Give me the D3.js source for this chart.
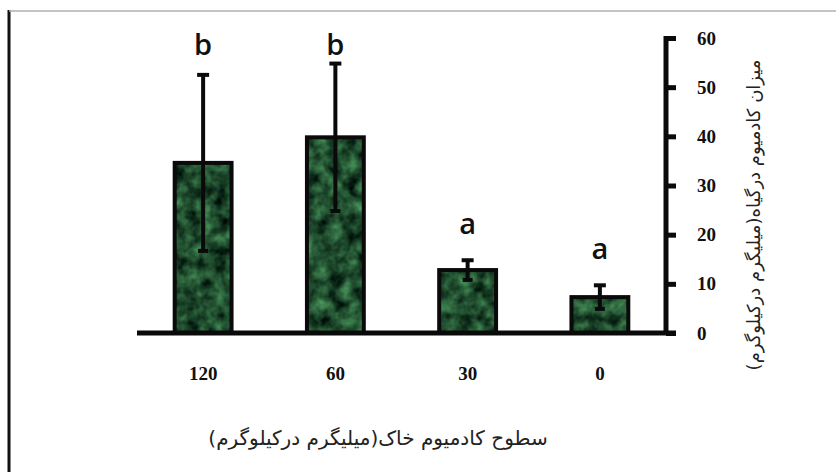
<!DOCTYPE html>
<html>
<head>
<meta charset="utf-8">
<script src="https://cdn.jsdelivr.net/npm/d3@7"></script>
<style>
  body { margin: 0; background: #fff; }
  svg { display: block; }
</style>
</head>
<body>
<script>
// data
const categories = ["120", "60", "30", "0"];
const means = [34.6, 39.8, 12.8, 7.3];
const errors = [17.9, 15.0, 2.0, 2.4];
const letters = ["b", "b", "a", "a"];
const yTicks = [0, 10, 20, 30, 40, 50, 60];
const xTitle = "سطوح کادمیوم خاک(میلیگرم درکیلوگرم)";
const yTitle = "میزان کادمیوم درگیاه(میلیگرم درکیلوگرم)";

const width = 836, height = 472;

const svg = d3.select("body").append("svg")
    .attr("width", width)
    .attr("height", height);

// marbled green texture for the bars
const defs = svg.append("defs");
const filter = defs.append("filter").attr("id", "marble")
    .attr("color-interpolation-filters", "sRGB")
    .attr("x", 0).attr("y", 0).attr("width", 1).attr("height", 1);
filter.append("feTurbulence")
    .attr("type", "fractalNoise")
    .attr("baseFrequency", 0.07)
    .attr("numOctaves", 3)
    .attr("seed", 4)
    .attr("result", "noise");
filter.append("feColorMatrix")
    .attr("in", "noise")
    .attr("type", "matrix")
    .attr("values", "0.45 0 0 0 -0.1  0.8 0 0 0 -0.1  0.5 0 0 0 -0.07  0 0 0 0 1")
    .attr("result", "col");
filter.append("feComposite")
    .attr("in", "col").attr("in2", "SourceGraphic").attr("operator", "in");

// frame (left black edge + thin grey top)
svg.append("line")
    .attr("x1", 9).attr("x2", 9).attr("y1", 10).attr("y2", height)
    .attr("stroke", "#111").attr("stroke-width", 3);
svg.append("line")
    .attr("x1", 9).attr("x2", width).attr("y1", 11).attr("y2", 11)
    .attr("stroke", "#b0b0b0").attr("stroke-width", 1.5);

const x = d3.scaleBand()
    .domain(categories)
    .range([137, 666])
    .paddingInner(0.57)
    .paddingOuter(0.285);

const y = d3.scaleLinear()
    .domain([0, 60])
    .range([333, 38]);

const data = categories.map((c, i) => ({
    cat: c, mean: means[i], err: errors[i], letter: letters[i]
}));

// bars
const bars = svg.append("g");
bars.selectAll("rect.fill")
    .data(data)
    .enter().append("rect")
    .attr("class", "fill")
    .attr("x", d => x(d.cat))
    .attr("y", d => y(d.mean))
    .attr("width", x.bandwidth())
    .attr("height", d => y(0) - y(d.mean))
    .attr("fill", "#1d4a2a")
    .attr("filter", "url(#marble)");
bars.selectAll("rect.edge")
    .data(data)
    .enter().append("rect")
    .attr("class", "edge")
    .attr("x", d => x(d.cat))
    .attr("y", d => y(d.mean))
    .attr("width", x.bandwidth())
    .attr("height", d => y(0) - y(d.mean))
    .attr("fill", "none")
    .attr("stroke", "#0a0a0a")
    .attr("stroke-width", 4);

// error bars
const eb = svg.append("g").attr("stroke", "#0a0a0a").attr("stroke-width", 4);
const cx = d => x(d.cat) + x.bandwidth() / 2;
eb.selectAll("line.v")
    .data(data)
    .enter().append("line")
    .attr("x1", cx).attr("x2", cx)
    .attr("y1", d => y(d.mean - d.err))
    .attr("y2", d => y(d.mean + d.err));
eb.selectAll("line.top")
    .data(data)
    .enter().append("line")
    .attr("x1", d => cx(d) - 6).attr("x2", d => cx(d) + 6)
    .attr("y1", d => y(d.mean + d.err))
    .attr("y2", d => y(d.mean + d.err));
eb.selectAll("line.bot")
    .data(data)
    .enter().append("line")
    .attr("x1", d => cx(d) - 5).attr("x2", d => cx(d) + 5)
    .attr("y1", d => y(d.mean - d.err))
    .attr("y2", d => y(d.mean - d.err));

// significance letters
svg.append("g").selectAll("text")
    .data(data)
    .enter().append("text")
    .attr("x", cx)
    .attr("y", d => Math.max(y(d.mean + d.err) - 26, 55))
    .attr("text-anchor", "middle")
    .style("font-family", "'Open Sans', sans-serif")
    .style("font-size", "29px")
    .style("font-weight", "600")
    .attr("fill", "#111")
    .text(d => d.letter);

// x baseline
svg.append("line")
    .attr("x1", 137).attr("x2", 676)
    .attr("y1", y(0)).attr("y2", y(0))
    .attr("stroke", "#0a0a0a").attr("stroke-width", 5);

// y axis on the right
const yAxis = d3.axisRight(y).tickValues(yTicks).tickSize(10).tickPadding(21);
const ya = svg.append("g")
    .attr("transform", "translate(666,0)")
    .call(yAxis);
ya.select(".domain")
    .attr("stroke", "#0a0a0a").attr("stroke-width", 5)
    .attr("d", `M0,${y(60) - 2}V${y(0) + 2}`);
ya.selectAll(".tick line").attr("stroke", "#0a0a0a").attr("stroke-width", 5);
ya.selectAll(".tick text")
    .style("font-family", "'Liberation Serif', serif")
    .style("font-size", "19px")
    .style("font-weight", "bold")
    .attr("fill", "#111");

// x tick labels
svg.append("g").selectAll("text")
    .data(categories)
    .enter().append("text")
    .attr("x", d => x(d) + x.bandwidth() / 2)
    .attr("y", 380)
    .attr("text-anchor", "middle")
    .style("font-family", "'Liberation Serif', serif")
    .style("font-size", "19px")
    .style("font-weight", "bold")
    .attr("fill", "#111")
    .text(d => d);

// axis titles
svg.append("text")
    .attr("x", 378).attr("y", 445)
    .attr("text-anchor", "middle")
    .attr("direction", "rtl")
    .style("font-family", "'DejaVu Sans', sans-serif")
    .style("font-size", "20px")
    .attr("fill", "#222")
    .text(xTitle);

svg.append("text")
    .attr("transform", "translate(760,215) rotate(-90)")
    .attr("text-anchor", "middle")
    .attr("direction", "rtl")
    .style("font-family", "'DejaVu Sans', sans-serif")
    .style("font-size", "18px")
    .attr("fill", "#222")
    .text(yTitle);
</script>
</body>
</html>
